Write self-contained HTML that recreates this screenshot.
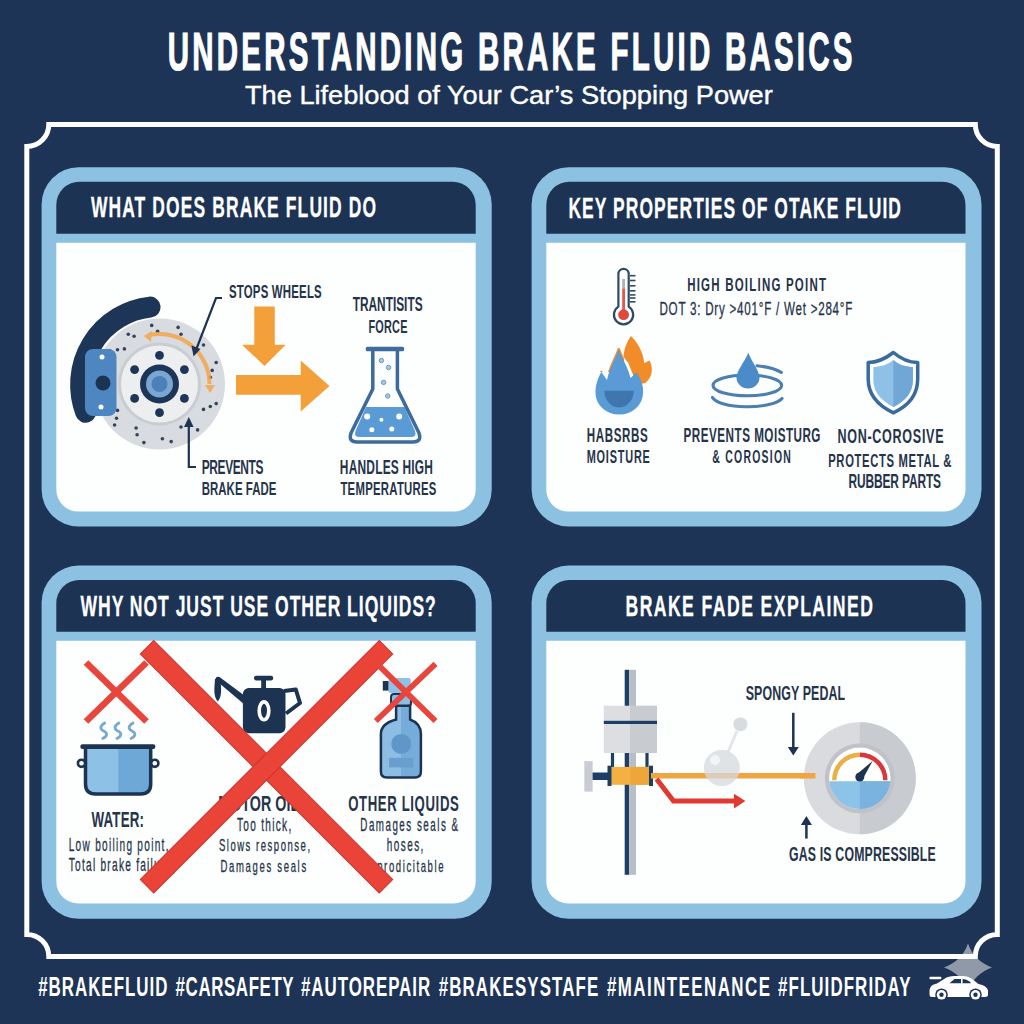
<!DOCTYPE html>
<html><head><meta charset="utf-8"><style>
html,body{margin:0;padding:0;background:#1e3456;}
svg{display:block;font-family:"Liberation Sans",sans-serif;}
</style></head><body>
<svg width="1024" height="1024" viewBox="0 0 1024 1024">
<rect width="1024" height="1024" fill="#1e3456"/>
<path d="M968,943.6 Q974,961 992,967.5 Q974,974 968,991.4 Q962,974 944,967.5 Q962,961 968,943.6 Z" fill="#8f99a8"/>
<path d="M48.8,124.5 H975.3 A22,22 0 0 0 997.3,146.5 V934.4 A22,22 0 0 0 975.3,956.4 H48.8 A22,22 0 0 0 26.8,934.4 V146.5 A22,22 0 0 0 48.8,124.5 Z" fill="none" stroke="#ffffff" stroke-width="5"/>
<rect x="41.6" y="167.3" width="450.10" height="359.20" rx="37" fill="#8cc1e1" /><path d="M56.3,233.8 V204.8 A23,23 0 0 1 79.3,181.8 H452.7 A23,23 0 0 1 475.7,204.8 V233.8 Z" fill="#1d3354"/><path d="M56.3,242.8 H475.7 V489.6 A22,22 0 0 1 453.7,511.6 H78.3 A22,22 0 0 1 56.3,489.6 Z" fill="#fdfefe"/>
<rect x="531.6" y="167.3" width="449.90" height="359.20" rx="37" fill="#8cc1e1" /><path d="M546.3000000000001,233.8 V204.8 A23,23 0 0 1 569.3000000000001,181.8 H942.5 A23,23 0 0 1 965.5,204.8 V233.8 Z" fill="#1d3354"/><path d="M546.3000000000001,242.8 H965.5 V489.6 A22,22 0 0 1 943.5,511.6 H568.3000000000001 A22,22 0 0 1 546.3000000000001,489.6 Z" fill="#fdfefe"/>
<rect x="41.6" y="565.6" width="450.10" height="353.10" rx="37" fill="#8cc1e1" /><path d="M56.3,631.8 V603.1 A23,23 0 0 1 79.3,580.1 H452.7 A23,23 0 0 1 475.7,603.1 V631.8 Z" fill="#1d3354"/><path d="M56.3,640.8 H475.7 V881.5 A22,22 0 0 1 453.7,903.5 H78.3 A22,22 0 0 1 56.3,881.5 Z" fill="#fdfefe"/>
<rect x="531.6" y="565.6" width="449.90" height="353.10" rx="37" fill="#8cc1e1" /><path d="M546.3000000000001,631.8 V603.1 A23,23 0 0 1 569.3000000000001,580.1 H942.5 A23,23 0 0 1 965.5,603.1 V631.8 Z" fill="#1d3354"/><path d="M546.3000000000001,640.8 H965.5 V881.5 A22,22 0 0 1 943.5,903.5 H568.3000000000001 A22,22 0 0 1 546.3000000000001,881.5 Z" fill="#fdfefe"/>
<path d="M150.1,307.1 A78,78 0 0 0 85.7,412.3" fill="none" stroke="#1d3557" stroke-width="21" stroke-linecap="round"/>
<circle cx="159.5" cy="384" r="65.5" fill="#d8dbdf"/>
<circle cx="159.5" cy="384" r="40" fill="#eceef0" stroke="#c9cdd2" stroke-width="3"/>
<circle cx="151.7" cy="325.4" r="1.8" fill="#34455a"/>
<circle cx="157.6" cy="331.3" r="1.8" fill="#34455a"/>
<circle cx="178.1" cy="327.4" r="1.8" fill="#34455a"/>
<circle cx="181.0" cy="334.2" r="1.8" fill="#34455a"/>
<circle cx="203.5" cy="345.0" r="1.8" fill="#34455a"/>
<circle cx="216.2" cy="362.5" r="1.8" fill="#34455a"/>
<circle cx="212.2" cy="370.4" r="1.8" fill="#34455a"/>
<circle cx="210.3" cy="377.2" r="1.8" fill="#34455a"/>
<circle cx="216.2" cy="403.6" r="1.8" fill="#34455a"/>
<circle cx="210.3" cy="406.5" r="1.8" fill="#34455a"/>
<circle cx="203.5" cy="409.4" r="1.8" fill="#34455a"/>
<circle cx="197.6" cy="429.9" r="1.8" fill="#34455a"/>
<circle cx="181.0" cy="427.0" r="1.8" fill="#34455a"/>
<circle cx="171.2" cy="441.6" r="1.8" fill="#34455a"/>
<circle cx="162.4" cy="438.7" r="1.8" fill="#34455a"/>
<circle cx="143.9" cy="442.6" r="1.8" fill="#34455a"/>
<circle cx="137.1" cy="434.8" r="1.8" fill="#34455a"/>
<circle cx="136.1" cy="428.0" r="1.8" fill="#34455a"/>
<circle cx="114.6" cy="425.0" r="1.8" fill="#34455a"/>
<circle cx="116.5" cy="418.2" r="1.8" fill="#34455a"/>
<circle cx="117.5" cy="410.4" r="1.8" fill="#34455a"/>
<circle cx="109.7" cy="350.8" r="1.8" fill="#34455a"/>
<circle cx="117.5" cy="349.8" r="1.8" fill="#34455a"/>
<circle cx="124.4" cy="348.9" r="1.8" fill="#34455a"/>
<circle cx="128.3" cy="334.2" r="1.8" fill="#34455a"/>
<circle cx="134.1" cy="336.2" r="1.8" fill="#34455a"/>
<circle cx="159.5" cy="355.3" r="4.4" fill="#1d3557"/>
<circle cx="184.4" cy="369.6" r="4.4" fill="#1d3557"/>
<circle cx="184.4" cy="398.4" r="4.4" fill="#1d3557"/>
<circle cx="159.5" cy="412.7" r="4.4" fill="#1d3557"/>
<circle cx="134.6" cy="398.4" r="4.4" fill="#1d3557"/>
<circle cx="134.6" cy="369.6" r="4.4" fill="#1d3557"/>
<circle cx="159.5" cy="384" r="19.5" fill="#1d3557"/>
<circle cx="159.5" cy="384" r="13.5" fill="#7aa6d2"/>
<circle cx="159.5" cy="384" r="8" fill="#4d80b8"/>
<rect x="85" y="349" width="31.5" height="67" rx="8" fill="#4e86c1"/>
<circle cx="103" cy="383" r="7.5" fill="#1d3352"/>
<circle cx="102" cy="357" r="2.5" fill="#ffffff"/><circle cx="101" cy="407" r="2.5" fill="#ffffff"/>
<g opacity="0.85"><path d="M148.3,335.3 A50,50 0 0 1 209.5,384.0" fill="none" stroke="#f4a64a" stroke-width="4"/>
<path d="M144,336 L152,331 L151,342 Z" fill="#f4a64a"/>
<path d="M205,385 L215,385 L210,393 Z" fill="#f4a64a"/></g>
<polyline points="222,298 216,298 196,350" fill="none" stroke="#1d3352" stroke-width="2.2"/>
<path d="M193.5,356.5 L191.5,345.5 L200.5,349 Z" fill="#1d3352"/>
<polyline points="196,467 188.8,467 188.8,424" fill="none" stroke="#1d3352" stroke-width="2.2"/>
<path d="M188.8,417 L184,427 L193.6,427 Z" fill="#1d3352"/>
<path d="M254.3,306.5 H274.8 V344.8 H285.7 L264.5,366 L242,344.8 H254.3 Z" fill="#f4a03a"/>
<path d="M236,375 H300.7 V360.5 L329.5,386 L300.7,411.6 V394.7 H236 Z" fill="#f4a03a"/>
<path d="M366,407 H404.5 L415,431 Q417,437 411,437 H359.5 Q353.5,437 355.5,431 Z" fill="#5b9bd5"/>
<circle cx="367.2" cy="416.6" r="3" fill="#ffffff"/>
<circle cx="381.4" cy="419.8" r="2" fill="#ffffff"/>
<circle cx="399.2" cy="416.6" r="3" fill="#ffffff"/>
<circle cx="371.8" cy="429.7" r="2.5" fill="#ffffff"/>
<circle cx="391.8" cy="428.9" r="2.5" fill="#ffffff"/>
<path d="M372.8,351 V389 L351,433 Q348,442 357,442 H413 Q422,442 419,433 L397.4,389 V351" fill="none" stroke="#3d6b9b" stroke-width="3.5" stroke-linejoin="round"/>
<rect x="365.8" y="346.8" width="38.3" height="4.5" rx="1.5" fill="#3d6b9b"/>
<circle cx="381.4" cy="360.5" r="2.2" fill="#a9c6e2" stroke="#6a98c4" stroke-width="1"/>
<circle cx="388.5" cy="367.5" r="2.2" fill="#a9c6e2" stroke="#6a98c4" stroke-width="1"/>
<circle cx="383.6" cy="382.4" r="2.2" fill="#a9c6e2" stroke="#6a98c4" stroke-width="1"/>
<circle cx="387.7" cy="396" r="2.2" fill="#a9c6e2" stroke="#6a98c4" stroke-width="1"/>
<path d="M618.4,306.6 V274 A5.15,5.15 0 0 1 628.7,274 V306.6 A9.6,9.6 0 1 1 618.4,306.6 Z" fill="#ffffff" stroke="#2f4a66" stroke-width="2.2"/>
<rect x="622.2" y="279" width="2.8" height="10" fill="#a9b4bf"/><rect x="622.2" y="288.7" width="2.8" height="26" fill="#e0574c"/>
<circle cx="623.6" cy="314.7" r="5.4" fill="#e2473b"/>
<line x1="630" y1="275.7" x2="635.5" y2="275.7" stroke="#2f4a66" stroke-width="1.6"/>
<line x1="630" y1="280.5" x2="635.5" y2="280.5" stroke="#2f4a66" stroke-width="1.6"/>
<line x1="630" y1="285.8" x2="635.5" y2="285.8" stroke="#2f4a66" stroke-width="1.6"/>
<line x1="630" y1="290.8" x2="635.5" y2="290.8" stroke="#2f4a66" stroke-width="1.6"/>
<line x1="630" y1="294.9" x2="635.5" y2="294.9" stroke="#2f4a66" stroke-width="1.6"/>
<line x1="630" y1="298" x2="635.5" y2="298" stroke="#2f4a66" stroke-width="1.6"/>
<line x1="630" y1="301.8" x2="635.5" y2="301.8" stroke="#2f4a66" stroke-width="1.6"/>
<path d="M630.9,336.1 C638,343 643,352 644.3,363 L649.5,360.5 C653,367 653.5,376 645.4,383 L640,384 C637,380 635,378 634,377.5 C632,372 630,367 628.3,363 C626,360 624.5,358 623.6,356.5 C624,349 627,342 630.9,336.1 Z" fill="#f28c28"/>
<clipPath id="flT"><rect x="590" y="340" width="34" height="32"/></clipPath>
<path clip-path="url(#flT)" d="M618.8,349.3 C622,359 628,367 630.5,378 L636.5,372.5 C642.5,381 643.5,388 643,393 A23.7,21.5 0 0 1 595.5,393 C595.5,385 597.5,379 601.3,372 L607,380 C609.5,368 615,360 618.8,349.3 Z" fill="none" stroke="#f28c28" stroke-width="2.6" stroke-linejoin="round"/>
<path d="M618.8,349.3 C622,359 628,367 630.5,378 L636.5,372.5 C642.5,381 643.5,388 643,393 A23.7,21.5 0 0 1 595.5,393 C595.5,385 597.5,379 601.3,372 L607,380 C609.5,368 615,360 618.8,349.3 Z" fill="#5a9bd5"/>
<path d="M604.3,390.7 H633.8 A14.75,16.7 0 0 1 604.3,390.7 Z" fill="#3f76ad"/>
<path d="M757,365.8 Q773,367.5 781.3,372.4" fill="none" stroke="#4a7fb0" stroke-width="3.1" stroke-linecap="round"/>
<ellipse cx="747.3" cy="385.4" rx="34.3" ry="10.4" fill="none" stroke="#4a7fb0" stroke-width="3.1"/>
<path d="M712.5,397.5 A35.5,10.9 0 0 0 782,398.5" fill="none" stroke="#4a7fb0" stroke-width="3.1" stroke-linecap="round"/>
<path d="M748.3,352.7 C752,362 759.5,371 759.5,377.5 A11.5,11 0 0 1 736.5,377.5 C736.5,371 744.5,362 748.3,352.7 Z" fill="#4a8bc8"/>
<clipPath id="shR"><rect x="893.4" y="340" width="40" height="80"/></clipPath>
<path d="M893.4,360 C887,365 880,367 873.4,367 V380 C873.4,393 882,401 893.4,407 C905,401 912.9,393 912.9,380 V367 C906,367 899,365 893.4,360 Z" fill="#8fc0e6"/>
<path clip-path="url(#shR)" d="M893.4,360 C887,365 880,367 873.4,367 V380 C873.4,393 882,401 893.4,407 C905,401 912.9,393 912.9,380 V367 C906,367 899,365 893.4,360 Z" fill="#70a7d6"/>
<path d="M893.4,352.5 C885,359 877,362.5 868.2,362.5 V379 C868.2,396 879,406 893.4,412.8 C908,406 917.7,396 917.7,379 V362.5 C909,362.5 901,359 893.4,352.5 Z" fill="none" stroke="#3a6b9c" stroke-width="3.5" stroke-linejoin="round"/>
<line x1="86" y1="662.5" x2="146.5" y2="721.5" stroke="#e8453c" stroke-width="6.6"/>
<line x1="146.5" y1="662.5" x2="86" y2="721.5" stroke="#e8453c" stroke-width="6.6"/>
<clipPath id="potR"><rect x="118.3" y="740" width="40" height="60"/></clipPath>
<path d="M85.5,748 V784 Q85.5,794 95.5,794 H140.7 Q150.7,794 150.7,784 V748 Z" fill="#8ec1e6"/>
<path clip-path="url(#potR)" d="M85.5,748 V784 Q85.5,794 95.5,794 H140.7 Q150.7,794 150.7,784 V748 Z" fill="#6ea8d6"/>
<path d="M85.5,748 V784 Q85.5,794 95.5,794 H140.7 Q150.7,794 150.7,784 V748" fill="none" stroke="#1d3352" stroke-width="3.5"/>
<rect x="80.3" y="744.3" width="75.1" height="4.6" rx="2.2" fill="#1d3352"/>
<circle cx="81.5" cy="763.3" r="3.6" fill="#ffffff" stroke="#1d3352" stroke-width="2.6"/><circle cx="154.8" cy="763.3" r="3.6" fill="#ffffff" stroke="#1d3352" stroke-width="2.6"/>
<path d="M104.7,723 C99.7,726 99.7,729 103.7,731 C107.7,733 107.7,736 102.7,738.4" fill="none" stroke="#7aa9cc" stroke-width="2.8" stroke-linecap="round"/>
<path d="M118.9,723 C113.9,726 113.9,729 117.9,731 C121.9,733 121.9,736 116.9,738.4" fill="none" stroke="#7aa9cc" stroke-width="2.8" stroke-linecap="round"/>
<path d="M133,723 C128,726 128,729 132,731 C136,733 136,736 131,738.4" fill="none" stroke="#7aa9cc" stroke-width="2.8" stroke-linecap="round"/>
<rect x="242.9" y="688" width="42.6" height="45.2" rx="6" fill="#1d3352"/>
<rect x="261.2" y="679" width="4.8" height="10" fill="#1d3352"/>
<rect x="254" y="675.8" width="19.2" height="4.6" rx="2.2" fill="#1d3352"/>
<path d="M245,696 L219.5,677 Q215.5,676 215.5,680 L245,705 Z" fill="#1d3352"/>
<path d="M215,679 C214.5,688 213,696 217.8,701.5 C222.5,696 221,688 220.5,679 Z" fill="#1d3352"/>
<polyline points="284,691 295.8,689.5 300,703 286,713.5" fill="none" stroke="#1d3352" stroke-width="4" stroke-linejoin="round"/>
<ellipse cx="264" cy="710.8" rx="4.8" ry="8.9" fill="none" stroke="#ffffff" stroke-width="3.6"/>
<clipPath id="btR"><rect x="401" y="670" width="30" height="120"/></clipPath>
<rect x="388.5" y="678" width="22.2" height="15" rx="2" fill="#8fc0e6"/>
<rect x="382.8" y="681" width="5.7" height="9.6" fill="#1d3352"/>
<rect x="391" y="694" width="20" height="12" rx="3" fill="#8dbde3" stroke="#1d3352" stroke-width="2"/>
<path d="M396.1,705.8 H410.1 V719.5 Q420.9,723.5 420.9,734 V771.5 Q420.9,777.5 414.9,777.5 H386.9 Q380.9,777.5 380.9,771.5 V734 Q380.9,723.5 396.1,719.5 Z" fill="#8dbde3"/>
<path clip-path="url(#btR)" d="M396.1,705.8 H410.1 V719.5 Q420.9,723.5 420.9,734 V771.5 Q420.9,777.5 414.9,777.5 H386.9 Q380.9,777.5 380.9,771.5 V734 Q380.9,723.5 396.1,719.5 Z" fill="#75acd9"/>
<path d="M396.1,705.8 H410.1 V719.5 Q420.9,723.5 420.9,734 V771.5 Q420.9,777.5 414.9,777.5 H386.9 Q380.9,777.5 380.9,771.5 V734 Q380.9,723.5 396.1,719.5 Z" fill="none" stroke="#1d3352" stroke-width="2.5"/>
<circle cx="401.2" cy="743.9" r="10" fill="#5f97c9"/>
<rect x="389.1" y="757.9" width="24.2" height="9.5" fill="#6a9ece"/>
<rect x="624.7" y="669.8" width="4.5" height="205" fill="#1d3f66"/><rect x="629.2" y="669.8" width="6.8" height="205" fill="#b9bec4"/>
<rect x="603.8" y="705.7" width="26.6" height="47.3" fill="#dcdee1"/><rect x="630.4" y="705.7" width="26.6" height="47.3" fill="#c8cbcf"/>
<rect x="603.8" y="720.8" width="53.2" height="3.2" fill="#1d3f66"/>
<line x1="612.5" y1="753" x2="612.5" y2="767" stroke="#1d3f66" stroke-width="3.2"/><line x1="647" y1="753" x2="647" y2="767" stroke="#1d3f66" stroke-width="3.2"/>
<rect x="584.3" y="761.2" width="8.3" height="30.4" fill="#c9ccd0"/>
<rect x="592.6" y="772.5" width="17.4" height="7.5" fill="#1d3f66"/>
<rect x="610" y="766.9" width="41" height="17.9" fill="#f3b043"/><rect x="630.5" y="766.9" width="20.5" height="17.9" fill="#eea53a"/>
<rect x="607.5" y="765.7" width="4" height="20.3" fill="#1d3f66"/><rect x="649" y="765.7" width="4" height="20.3" fill="#1d3f66"/>
<rect x="651" y="773" width="164.4" height="5.5" fill="#f0a540"/>
<line x1="728" y1="752" x2="737" y2="731" stroke="#e3e6e9" stroke-width="3"/>
<circle cx="740.4" cy="724.2" r="7" fill="#d8dce0"/>
<circle cx="721.8" cy="768" r="18" fill="#d5d9de" opacity="0.75"/>
<circle cx="715" cy="760" r="5" fill="#ffffff" opacity="0.6"/>
<polyline points="656.6,779 673.5,801 737,801" fill="none" stroke="#e03a30" stroke-width="5"/>
<path d="M734,793.8 L745.4,801 L734,808.4 Z" fill="#e03a30"/>
<line x1="793.3" y1="712.8" x2="793.3" y2="749" stroke="#1d3352" stroke-width="2.5"/><path d="M787.8,747 L798.8,747 L793.3,755.5 Z" fill="#1d3352"/>
<line x1="806.4" y1="824" x2="806.4" y2="838.6" stroke="#1d3352" stroke-width="2.5"/><path d="M806.4,816 L800.9,825 L811.9,825 Z" fill="#1d3352"/>
<clipPath id="gR"><rect x="859.8" y="700" width="70" height="150"/></clipPath>
<circle cx="859.8" cy="778.3" r="56" fill="#d9dbde"/><circle clip-path="url(#gR)" cx="859.8" cy="778.3" r="56" fill="#c8cbcf"/>
<circle cx="859.8" cy="778.3" r="35" fill="#bfc3c8"/>
<circle cx="859.8" cy="778.3" r="30.7" fill="#ffffff"/>
<clipPath id="gB"><rect x="820" y="781.3" width="80" height="40"/></clipPath><clipPath id="gBR"><rect x="859.8" y="781.3" width="40" height="40"/></clipPath>
<circle clip-path="url(#gB)" cx="859.8" cy="778.3" r="30.7" fill="#8cc3e8"/><circle clip-path="url(#gBR)" cx="859.8" cy="778.3" r="30.7" fill="#7ab4de"/>
<rect x="800" y="773" width="15.4" height="5.5" fill="#f0a540"/>
<path d="M834.3,780.2 A25.5,25.5 0 0 1 859.8,754.7" fill="none" stroke="#e8b045" stroke-width="4.5"/>
<path d="M859.8,754.7 A25.5,25.5 0 0 1 885.3,780.2" fill="none" stroke="#d9363e" stroke-width="4.5"/>
<path d="M856.5,774.5 L872.6,761 L862.5,779.5 Z" fill="#1d3352"/><circle cx="859.8" cy="777" r="4.5" fill="#1d3352"/>
<text transform="translate(167.68,70.20) scale(0.55,1)" font-size="53.63" font-weight="bold" fill="#ffffff" letter-spacing="5.897" stroke="#ffffff" stroke-width="1.2">UNDERSTANDING BRAKE FLUID BASICS</text>
<text x="245.00" y="104.00" font-size="26.45" font-weight="normal" fill="#ffffff" textLength="527.80" lengthAdjust="spacingAndGlyphs" stroke="#ffffff" stroke-width="0.4">The Lifeblood of Your Car’s Stopping Power</text>
<text transform="translate(90.89,217.35) scale(0.58,1)" font-size="30.09" font-weight="bold" fill="#ffffff" letter-spacing="1.938" stroke="#ffffff" stroke-width="0.3">WHAT DOES BRAKE FLUID DO</text>
<text transform="translate(568.43,217.85) scale(0.58,1)" font-size="30.09" font-weight="bold" fill="#ffffff" letter-spacing="1.838" stroke="#ffffff" stroke-width="0.3">KEY PROPERTIES OF OTAKE FLUID</text>
<text transform="translate(80.49,616.35) scale(0.58,1)" font-size="30.23" font-weight="bold" fill="#ffffff" letter-spacing="1.688" stroke="#ffffff" stroke-width="0.3">WHY NOT JUST USE OTHER LIQUIDS?</text>
<text transform="translate(625.53,616.05) scale(0.58,1)" font-size="30.38" font-weight="bold" fill="#ffffff" letter-spacing="2.458" stroke="#ffffff" stroke-width="0.3">BRAKE FADE EXPLAINED</text>
<text transform="translate(229.00,298.30) scale(0.6,1)" font-size="19.04" font-weight="bold" fill="#26344a" letter-spacing="0.333">STOPS WHEELS</text>
<text transform="translate(352.70,310.60) scale(0.6,1)" font-size="19.77" font-weight="bold" fill="#26344a" letter-spacing="0.004">TRANTISITS</text>
<text transform="translate(368.40,332.50) scale(0.6,1)" font-size="18.17" font-weight="bold" fill="#26344a" letter-spacing="0.391">FORCE</text>
<text transform="translate(201.70,474.00) scale(0.6,1)" font-size="19.91" font-weight="bold" fill="#26344a" letter-spacing="-0.622">PREVENTS</text>
<text transform="translate(201.70,495.30) scale(0.6,1)" font-size="19.04" font-weight="bold" fill="#26344a" letter-spacing="0.091">BRAKE FADE</text>
<text transform="translate(339.80,474.00) scale(0.6,1)" font-size="19.91" font-weight="bold" fill="#26344a" letter-spacing="0.351">HANDLES HIGH</text>
<text transform="translate(340.40,495.00) scale(0.6,1)" font-size="18.90" font-weight="bold" fill="#26344a" letter-spacing="0.461">TEMPERATURES</text>
<text transform="translate(687.20,291.00) scale(0.6,1)" font-size="19.19" font-weight="bold" fill="#26344a" letter-spacing="2.010">HIGH BOILING POINT</text>
<text transform="translate(659.46,314.85) scale(0.64,1)" font-size="18.17" font-weight="normal" fill="#26344a" letter-spacing="1.176" stroke="#26344a" stroke-width="0.3">DOT 3: Dry &gt;401°F / Wet &gt;284°F</text>
<text transform="translate(586.70,441.90) scale(0.6,1)" font-size="19.33" font-weight="bold" fill="#26344a" letter-spacing="1.053">HABSRBS</text>
<text transform="translate(586.70,463.40) scale(0.6,1)" font-size="18.17" font-weight="bold" fill="#26344a" letter-spacing="1.350">MOISTURE</text>
<text transform="translate(683.60,442.00) scale(0.6,1)" font-size="19.48" font-weight="bold" fill="#26344a" letter-spacing="0.805">PREVENTS MOISTURG</text>
<text transform="translate(712.30,463.00) scale(0.6,1)" font-size="17.44" font-weight="bold" fill="#26344a" letter-spacing="2.061">&amp; COROSION</text>
<text transform="translate(837.40,443.00) scale(0.6,1)" font-size="20.93" font-weight="bold" fill="#26344a" letter-spacing="1.187">NON-COROSIVE</text>
<text transform="translate(828.20,466.50) scale(0.6,1)" font-size="18.75" font-weight="bold" fill="#26344a" letter-spacing="1.110">PROTECTS METAL &amp;</text>
<text transform="translate(848.40,488.00) scale(0.6,1)" font-size="19.91" font-weight="bold" fill="#26344a" letter-spacing="-0.203">RUBBER PARTS</text>
<text transform="translate(745.70,700.00) scale(0.6,1)" font-size="20.64" font-weight="bold" fill="#26344a" letter-spacing="0.201">SPONGY PEDAL</text>
<text transform="translate(788.90,861.00) scale(0.6,1)" font-size="20.49" font-weight="bold" fill="#26344a" letter-spacing="0.332">GAS IS COMPRESSIBLE</text>
<text transform="translate(38.20,995.90) scale(0.6,1)" font-size="28.20" font-weight="bold" fill="#ffffff" letter-spacing="1.631">#BRAKEFLUID</text>
<text transform="translate(175.60,995.90) scale(0.6,1)" font-size="28.20" font-weight="bold" fill="#ffffff" letter-spacing="0.966">#CARSAFETY</text>
<text transform="translate(301.00,995.90) scale(0.6,1)" font-size="28.20" font-weight="bold" fill="#ffffff" letter-spacing="1.576">#AUTOREPAIR</text>
<text transform="translate(438.70,995.90) scale(0.6,1)" font-size="28.20" font-weight="bold" fill="#ffffff" letter-spacing="1.847">#BRAKESYSTAFE</text>
<text transform="translate(607.00,995.90) scale(0.6,1)" font-size="28.20" font-weight="bold" fill="#ffffff" letter-spacing="2.393">#MAINTEENANCE</text>
<text transform="translate(778.00,995.90) scale(0.6,1)" font-size="28.20" font-weight="bold" fill="#ffffff" letter-spacing="1.801">#FLUIDFRIDAY</text>
<text transform="translate(91.60,827.30) scale(0.6,1)" font-size="22.24" font-weight="bold" fill="#26344a" letter-spacing="0.218">WATER:</text><text transform="translate(68.72,850.85) scale(0.56,1)" font-size="18.02" font-weight="normal" fill="#26344a" letter-spacing="2.289" stroke="#26344a" stroke-width="0.3">Low boiling point,</text><text transform="translate(68.78,870.65) scale(0.56,1)" font-size="18.17" font-weight="normal" fill="#26344a" letter-spacing="2.200" stroke="#26344a" stroke-width="0.3">Total brake failure,</text><text transform="translate(236.88,831.25) scale(0.56,1)" font-size="18.02" font-weight="normal" fill="#26344a" letter-spacing="2.337" stroke="#26344a" stroke-width="0.3">Too thick,</text><text transform="translate(218.88,850.85) scale(0.56,1)" font-size="17.01" font-weight="normal" fill="#26344a" letter-spacing="2.728" stroke="#26344a" stroke-width="0.3">Slows response,</text><text transform="translate(220.52,871.85) scale(0.56,1)" font-size="17.01" font-weight="normal" fill="#26344a" letter-spacing="2.985" stroke="#26344a" stroke-width="0.3">Damages seals</text><text transform="translate(348.20,810.50) scale(0.6,1)" font-size="21.95" font-weight="bold" fill="#26344a" letter-spacing="1.038">OTHER LIQUIDS</text><text x="218.36" y="810.50" font-size="22.24" font-weight="bold" fill="#26344a" textLength="80.77" lengthAdjust="spacingAndGlyphs">MOTOR OIL</text><text transform="translate(360.32,830.85) scale(0.56,1)" font-size="17.44" font-weight="normal" fill="#26344a" letter-spacing="2.711" stroke="#26344a" stroke-width="0.3">Damages seals &amp;</text><text transform="translate(386.82,851.35) scale(0.56,1)" font-size="17.73" font-weight="normal" fill="#26344a" letter-spacing="2.598" stroke="#26344a" stroke-width="0.3">hoses,</text><text transform="translate(377.22,871.85) scale(0.56,1)" font-size="17.01" font-weight="normal" fill="#26344a" letter-spacing="2.867" stroke="#26344a" stroke-width="0.3">prodicitable</text>
<g transform="translate(266.5,766.75) rotate(45)"><rect x="-169" y="-9.5" width="338" height="19" fill="#ea4337" stroke="#c9362e" stroke-width="1"/></g>
<g transform="translate(266.5,766.75) rotate(-45)"><rect x="-169" y="-9.5" width="338" height="19" fill="#ea4337" stroke="#c9362e" stroke-width="1"/></g>
<line x1="379.7" y1="666.4" x2="435.5" y2="721" stroke="#e8453c" stroke-width="5.7"/>
<line x1="435.5" y1="663.9" x2="375.8" y2="721" stroke="#e8453c" stroke-width="5.7"/>
<path d="M929.5,992 C929.5,986.5 932,984.5 937,983.5 L946.5,977.5 Q949.5,976 954,976 H963.5 Q968,976 971.5,978.5 L978.5,984 Q987,985.5 988,990.5 V994.5 Q988,997 985,997 H932 Q929.5,997 929.5,994.5 Z" fill="#ffffff"/>
<path d="M949.5,983.2 L954.5,979 H963 Q966.5,979 969.5,981.5 L971,983.2 Z" fill="#1e3456"/><rect x="961" y="978.5" width="1.6" height="5" fill="#ffffff"/>
<circle cx="941.5" cy="994.8" r="6.3" fill="#1e3456"/><circle cx="975.5" cy="994.8" r="6.3" fill="#1e3456"/>
<circle cx="941.5" cy="994.8" r="4.8" fill="#ffffff"/><circle cx="975.5" cy="994.8" r="4.8" fill="#ffffff"/>
<circle cx="941.5" cy="994.8" r="2.2" fill="#1e3456"/><circle cx="975.5" cy="994.8" r="2.2" fill="#1e3456"/>
<rect x="929.4" y="976.8" width="12" height="2.4" rx="1" fill="#ffffff"/>
</svg></body></html>
